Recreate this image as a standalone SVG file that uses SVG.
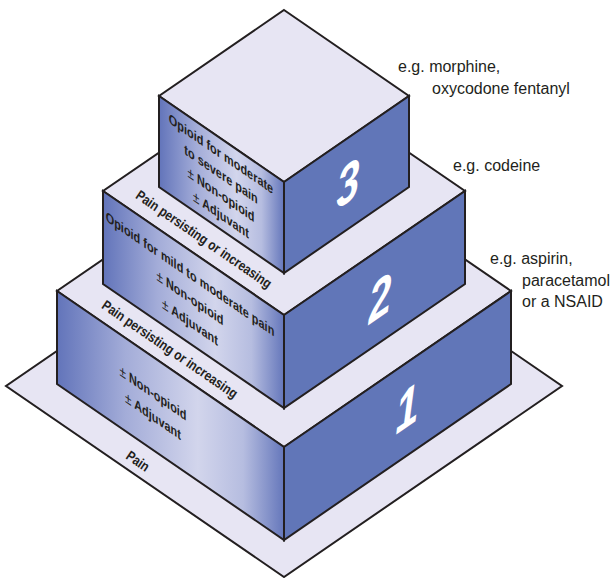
<svg xmlns="http://www.w3.org/2000/svg" width="615" height="578" viewBox="0 0 615 578">
<defs>
<linearGradient id="lf" x1="0" y1="0" x2="1" y2="0">
<stop offset="0" stop-color="#6274ba"/>
<stop offset="0.3" stop-color="#a3acd8"/>
<stop offset="0.62" stop-color="#d2d5ec"/>
<stop offset="0.82" stop-color="#b6bde0"/>
<stop offset="1" stop-color="#6577bb"/>
</linearGradient>
<style>
.e{stroke:#231f20;stroke-width:2;stroke-linejoin:miter}
.top{fill:#e7e5f3}
.left{fill:url(#lf)}
.right{fill:#6176b8}
.ft{font-family:"Liberation Sans",Arial,sans-serif;font-weight:bold;font-size:14px;fill:#231f20;text-anchor:middle}
.pm{font-weight:normal;font-size:15px}
.num{font-family:"Liberation Sans",Arial,sans-serif;font-weight:bold;font-style:italic;font-size:55px;fill:#ffffff;text-anchor:middle}
.lab{font-family:"Liberation Sans",Arial,sans-serif;font-size:16px;fill:#231f20}
</style>
</defs>
<g id="base">
<polygon class="e top" points="284,195 562,386 284,577 6,386"/>
<g transform="translate(138,461) rotate(34.5) scale(0.84,1)"><text class="ft" y="5">Pain</text></g>
</g>
<g id="tier1">
<polygon class="e top" points="284,135 511,291 284,447 57,291"/>
<polygon class="e left" points="57,291 284,447 284,540 57,384"/>
<polygon class="e right" points="284,447 511,291 511,384 284,540"/>
<g transform="translate(153,357) skewY(34.5) scale(0.78,1)">
<text class="ft" y="41"><tspan class="pm">±</tspan> Non-opioid</text>
<text class="ft" y="64"><tspan class="pm">±</tspan> Adjuvant</text>
</g>
<text class="num" transform="translate(407,408) skewY(-34.5) scale(0.75,1)" y="19">1</text>
<g transform="translate(170,349) rotate(34.5) scale(0.84,1)"><text class="ft" y="5">Pain persisting or increasing</text></g>
</g>
<g id="tier2">
<polygon class="e top" points="284,67 465,191 284,315 103,191"/>
<polygon class="e left" points="103,191 284,315 284,408 103,284"/>
<polygon class="e right" points="284,315 465,191 465,284 284,408"/>
<g transform="translate(190,250.8) skewY(34.5) scale(0.78,1)">
<text class="ft" y="28">Opioid for mild to moderate pain</text>
<text class="ft" y="52"><tspan class="pm">±</tspan> Non-opioid</text>
<text class="ft" y="76"><tspan class="pm">±</tspan> Adjuvant</text>
</g>
<text class="num" transform="translate(380,298) skewY(-34.5) scale(0.75,1)" y="19">2</text>
<g transform="translate(204,239) rotate(34.5) scale(0.84,1)"><text class="ft" y="5">Pain persisting or increasing</text></g>
</g>
<g id="tier3">
<polygon class="e top" points="284,10 409,96 284,182 159,96"/>
<polygon class="e left" points="159,96 284,182 284,273 159,187"/>
<polygon class="e right" points="284,182 409,96 409,187 284,273"/>
<g transform="translate(221,138.6) skewY(34.5) scale(0.78,1)">
<text class="ft" y="20">Opioid for moderate</text>
<text class="ft" y="40.5">to severe pain</text>
<text class="ft" y="61"><tspan class="pm">±</tspan> Non-opioid</text>
<text class="ft" y="81"><tspan class="pm">±</tspan> Adjuvant</text>
</g>
<text class="num" transform="translate(348,183) skewY(-34.5) scale(0.75,1)" y="19">3</text>
</g>
<g id="labels">
<text class="lab" x="398" y="72">e.g. morphine,</text>
<text class="lab" x="432" y="94">oxycodone fentanyl</text>
<text class="lab" x="453" y="171">e.g. codeine</text>
<text class="lab" x="490" y="264">e.g. aspirin,</text>
<text class="lab" x="522" y="286">paracetamol</text>
<text class="lab" x="522" y="307">or a NSAID</text>
</g>
<g id="connectors"/>
</svg>
